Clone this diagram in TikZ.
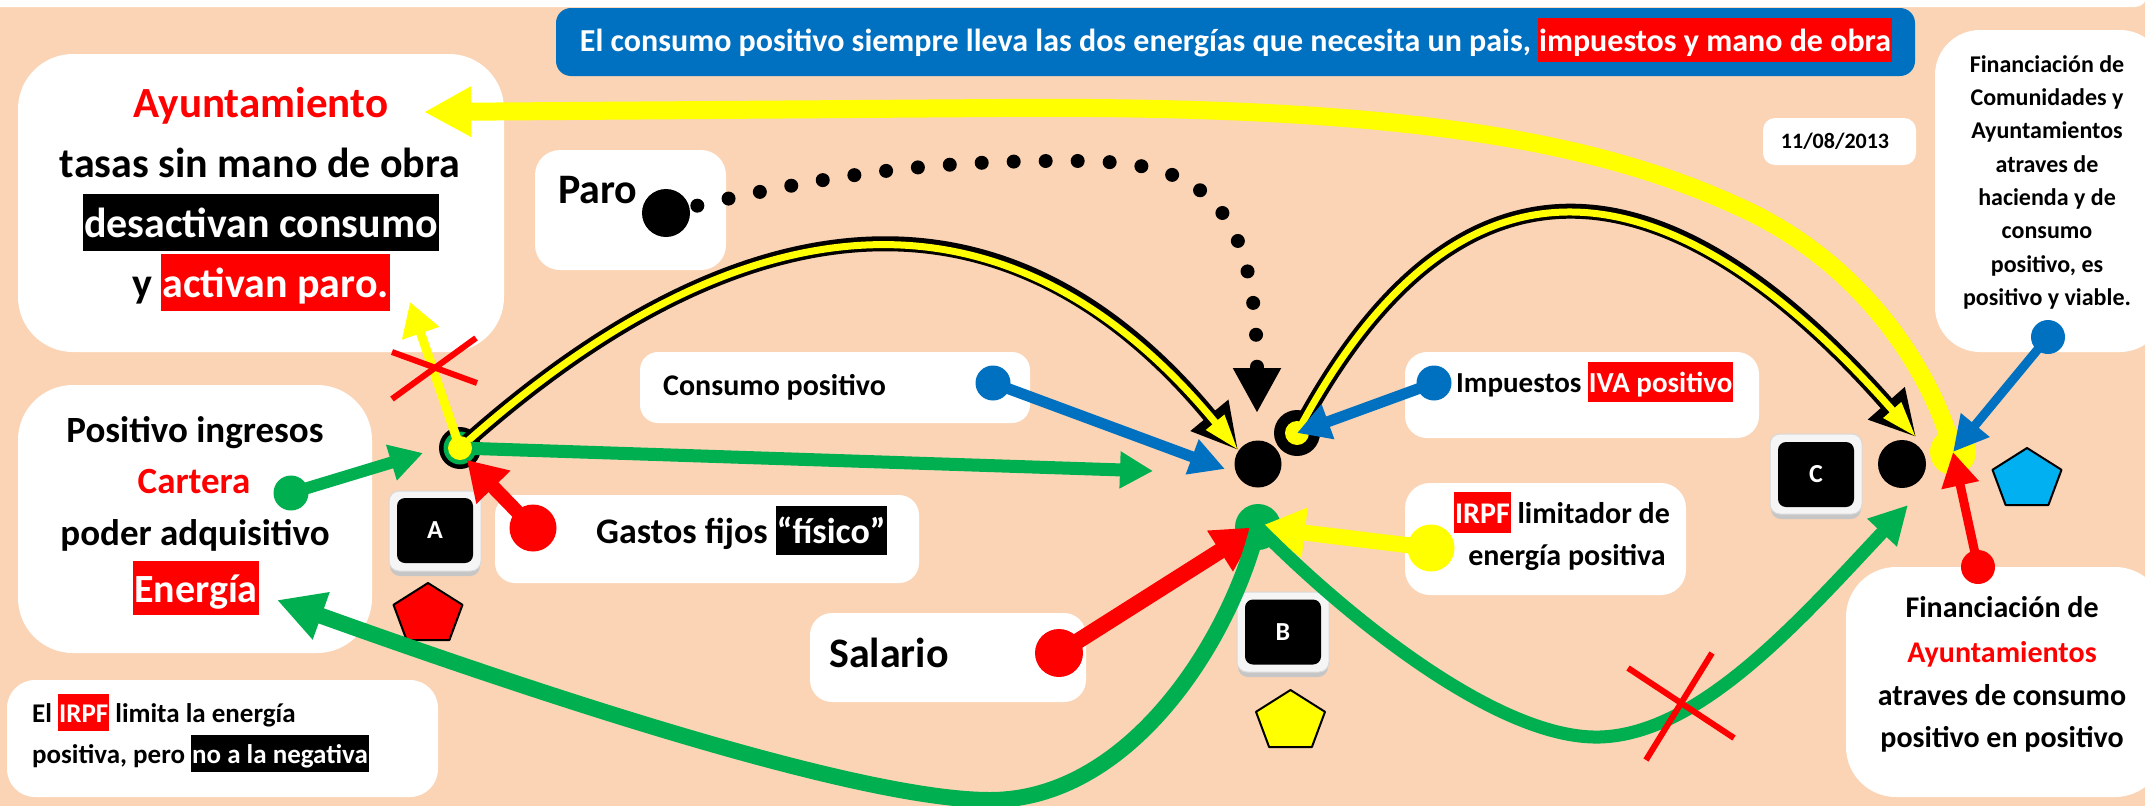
\documentclass[tikz,border=0pt]{standalone}
\usepackage{fontspec}
\setmainfont{Carlito}
\usetikzlibrary{arrows.meta,shapes.geometric}
\definecolor{peach}{HTML}{FAD4B4}
\definecolor{mgreen}{HTML}{00B050}
\definecolor{mblue}{HTML}{0070C0}
\definecolor{lblue}{HTML}{00B0F0}
\definecolor{myellow}{HTML}{FFFF00}
\definecolor{mred}{HTML}{FF0000}
\newcommand{\hlbox}[2]{\begingroup\setlength{\fboxsep}{1pt}\colorbox{#1}{\rule[-0.3em]{0pt}{1.3em}\textcolor{white}{#2}}\endgroup}
\newcommand{\pentagonat}[3]{\draw[line width=2pt, fill=#3, line join=round] (#1,#2-31.5) -- (#1+34.5,#2-9.7) -- (#1+21.4,#2+25.5) -- (#1-21.4,#2+25.5) -- (#1-34.5,#2-9.7) -- cycle;}
\begin{document}
\begin{tikzpicture}[x=1pt,y=-1pt,
  fs/.style={font=\fontsize{#1}{#1}\selectfont\bfseries},
  txt/.style={inner sep=0pt, anchor=base},
  wbox/.style={fill=white, inner sep=0pt, rectangle},
  btnout/.style={fill=gray!8, draw=gray!30, line width=1pt, rounded corners=10pt, minimum width=92pt, minimum height=80pt, inner sep=0pt},
  btnsh/.style={fill=gray!45, rounded corners=10pt, minimum width=90pt, minimum height=80pt, inner sep=0pt},
  btnin/.style={fill=black, rounded corners=8pt, minimum width=76pt, minimum height=65pt, inner sep=0pt, text=white, fs=26},
  disc/.style={circle, inner sep=0pt, minimum size=#1},
  xmark/.style={mred, line width=6pt},
]
\useasboundingbox (0,0) rectangle (2145,806);
\clip (0,0) rectangle (2145,806);
\fill[peach] (0,0) rectangle (2145,806);
\fill[white, rounded corners=12pt] (-40,-40) rectangle (2147,7);

% ---------- boxes ----------
\node[wbox, fill=mblue, minimum width=1359pt, minimum height=68pt, rounded corners=15pt] (titlebox) at (1235.5,42) {};
\node[wbox, minimum width=486pt, minimum height=298pt, rounded corners=55pt] (ayuntbox) at (261,203) {};
\node[wbox, minimum width=191pt, minimum height=120pt, rounded corners=25pt] (parobox) at (630.5,210) {};
\node[wbox, minimum width=390pt, minimum height=71pt, rounded corners=18pt] (consbox) at (835,387.5) {};
\node[wbox, minimum width=424pt, minimum height=88pt, rounded corners=20pt] (gastbox) at (707,539) {};
\node[wbox, minimum width=354pt, minimum height=268pt, rounded corners=55pt] (posbox) at (195,519) {};
\node[wbox, minimum width=431pt, minimum height=117pt, rounded corners=28pt] (irpfbox) at (222.5,738.5) {};
\node[wbox, minimum width=276pt, minimum height=89pt, rounded corners=22pt] (salbox) at (948,657.5) {};
\node[wbox, minimum width=354pt, minimum height=86pt, rounded corners=22pt] (impbox) at (1582,395) {};
\node[wbox, minimum width=281pt, minimum height=112pt, rounded corners=25pt] (limbox) at (1545.5,539) {};
\node[wbox, minimum width=153pt, minimum height=47pt, rounded corners=12pt] (datebox) at (1839.5,141.5) {};
\node[wbox, minimum width=230pt, minimum height=322pt, rounded corners=45pt] (fintopbox) at (2050,191) {};
\node[wbox, minimum width=319pt, minimum height=230pt, rounded corners=50pt] (finbotbox) at (2005.5,682) {};

% ---------- texts ----------
\node[txt, fs=32, text=white] (titletxt) at (1236,51) {El consumo positivo siempre lleva las dos energías que necesita un pais, \hlbox{mred}{impuestos y mano de obra}};
\node[txt, fs=43, text=mred] (ay1) at (261,117) {Ayuntamiento};
\node[txt, fs=42] (ay2) at (260,177) {tasas sin mano de obra};
\node[txt, fs=42] (ay3) at (261,237) {\hlbox{black}{desactivan consumo}};
\node[txt, fs=42] (ay4) at (261,297) {y \hlbox{mred}{activan paro.}};
\node[txt, fs=42, anchor=base west] (parotxt) at (558,203) {Paro};
\node[txt, fs=30, anchor=base west] (constxt) at (663,395) {Consumo positivo};
\node[txt, fs=37] (pos1) at (195,442) {Positivo ingresos};
\node[txt, fs=37, text=mred] (pos2) at (194,493) {Cartera};
\node[txt, fs=37] (pos3) at (195,545) {poder adquisitivo};
\node[txt, fs=40] (pos4) at (196,602) {\hlbox{mred}{Energía}};
\node[txt, fs=36, anchor=base west] (gasttxt) at (596,543) {Gastos fijos \hlbox{black}{“físico”}};
\node[txt, fs=27, anchor=base west] (irpf1) at (32,722) {El \hlbox{mred}{IRPF} limita la energía};
\node[txt, fs=27, anchor=base west] (irpf2) at (32,763) {positiva, pero \hlbox{black}{no a la negativa}};
\node[txt, fs=42, anchor=base west] (saltxt) at (829,667) {Salario};
\node[txt, fs=29, anchor=base west] (imptxt) at (1456,392) {Impuestos \hlbox{mred}{IVA positivo}};
\node[txt, fs=30] (lim1) at (1562,523) {\hlbox{mred}{IRPF} limitador de};
\node[txt, fs=30] (lim2) at (1567,565) {energía positiva};
\node[txt, fs=22] (datetxt) at (1835,148) {11/08/2013};
\node[txt, fs=24] (ft1) at (2047,72) {Financiación de};
\node[txt, fs=24] (ft2) at (2047,105) {Comunidades y};
\node[txt, fs=24] (ft3) at (2047,138) {Ayuntamientos};
\node[txt, fs=24] (ft4) at (2047,172) {atraves de};
\node[txt, fs=24] (ft5) at (2047,205) {hacienda y de};
\node[txt, fs=24] (ft6) at (2047,238) {consumo};
\node[txt, fs=24] (ft7) at (2047,272) {positivo, es};
\node[txt, fs=24] (ft8) at (2047,305) {positivo y viable.};
\node[txt, fs=30] (fb1) at (2002,617) {Financiación de};
\node[txt, fs=30, text=mred] (fb2) at (2002,662) {Ayuntamientos};
\node[txt, fs=30] (fb3) at (2002,705) {atraves de consumo};
\node[txt, fs=30] (fb4) at (2002,747) {positivo en positivo};

% ---------- buttons ----------
\node[btnsh] (Ash) at (435,536) {};
\node[btnout] (Aout) at (435,531) {};
\node[btnin] (Ain) at (435,530.5) {A};
\node[btnsh] (Bsh) at (1283,637) {};
\node[btnout] (Bout) at (1283,632) {};
\node[btnin] (Bin) at (1283,632) {B};
\node[btnsh] (Csh) at (1816,479) {};
\node[btnout] (Cout) at (1816,474) {};
\node[btnin] (Cin) at (1816,474.5) {C};

% ---------- pentagons ----------
\pentagonat{428}{614.5}{mred}
\pentagonat{1290.5}{721.5}{myellow}
\pentagonat{2027}{479.5}{lblue}

% ---------- dots ----------
\node[disc=48pt, fill=black] (parodot) at (666,213) {};
\node[disc=42pt, fill=black] (Aring) at (460,448) {};
\node[disc=33pt, fill=mgreen] (Agrn) at (460,448) {};
\node[disc=47pt, fill=black] (Bdot) at (1258,464) {};
\node[disc=46pt, fill=black] (Bring) at (1297,433) {};
\node[disc=46pt, fill=mgreen] (Bgrn) at (1258,527) {};
\node[disc=48pt, fill=black] (Cdot) at (1902,464) {};
\node[disc=46pt, fill=myellow] (Cyel) at (1953,452) {};
\node[disc=35pt, fill=mblue] (consdot) at (993,383) {};
\node[disc=35pt, fill=mblue] (impdot) at (1434,383) {};
\node[disc=34pt, fill=mblue] (fintopdot) at (2048,337) {};
\node[disc=47pt, fill=mred] (gastdot) at (533,528) {};
\node[disc=48pt, fill=mred] (saldot) at (1059,653) {};
\node[disc=47pt, fill=myellow] (limdot) at (1431,548) {};
\node[disc=34pt, fill=mred] (finbotdot) at (1978,567) {};
\node[disc=35pt, fill=mgreen] (cartdot) at (291,493) {};

% ---------- free tip coordinates ----------
\coordinate (aytip) at (424,112);
\coordinate (arc1tip) at (1238,450);
\coordinate (arc2tip) at (1916,437);
\coordinate (dottip) at (1257,413);
\coordinate (energtip) at (277,600);
\coordinate (cgtip) at (1908,505);
\coordinate (gabtip) at (1153,471);
\coordinate (carttip) at (423,453);
\coordinate (upatip) at (410,302);
\coordinate (gasttip) at (467,460);
\coordinate (constip) at (1225,469);

% ---------- connectors ----------
\draw[myellow, line width=18pt, -{Triangle[length=47pt,width=47pt]}] (Cyel.center) .. controls (1935,380) and (1870,270) .. (1750,212) .. controls (1600,140) and (1400,105) .. (1000,108) -- (aytip);

\draw[black, line width=15pt, -{Triangle[length=45pt,width=46pt]}] (Aring.center) .. controls (757,181) and (1016,181) .. (arc1tip);
\draw[myellow, line width=7pt, -{Triangle[length=36pt,width=22pt]}] (Aring.center) .. controls (757,181) and (1016,181) .. (arc1tip);
\draw[black, line width=15pt, -{Triangle[length=45pt,width=46pt]}] (Bring.center) .. controls (1451,141) and (1657,143) .. (arc2tip);
\draw[myellow, line width=7pt, -{Triangle[length=36pt,width=22pt]}] (Bring.center) .. controls (1451,141) and (1657,143) .. (arc2tip);

\draw[black, line width=14pt, line cap=round, dash pattern=on 0pt off 32pt, shorten <=8pt, -{Triangle[length=45pt,width=45pt]}] (parodot) .. controls (850,170) and (950,160) .. (1080,161) .. controls (1200,162) and (1257,200) .. (dottip);

\draw[mgreen, line width=13pt, -{Triangle[length=33pt,width=35pt]}] (Aring.center) -- (gabtip);
\draw[mgreen, line width=12pt, -{Triangle[length=33pt,width=35pt]}] (cartdot.center) -- (carttip);
\draw[myellow, line width=9pt, -{Triangle[length=33pt,width=37pt]}] (Aring.center) -- (upatip);
\fill[myellow] (Aring.center) circle (12pt);
\fill[myellow] (Bring.center) circle (12pt);
\draw[mred, line width=14pt, -{Triangle[length=38pt,width=45pt]}] (gastdot.center) -- (gasttip);

\draw[mblue, line width=11pt, -{Triangle[length=35pt,width=35pt]}] (consdot.center) -- (constip);
\draw[mblue, line width=11pt, -{Triangle[length=33pt,width=35pt]}] (impdot.center) -- (Bring.center);

\draw[mred, line width=16pt, -{Triangle[length=45pt,width=45pt]}] (saldot.center) -- (Bgrn.center);
\draw[myellow, line width=16pt, -{Triangle[length=47pt,width=47pt]}] (limdot.center) -- (Bgrn.center);

\draw[mgreen, line width=16pt, -{Triangle[length=47pt,width=47pt]}] (Bgrn.center) .. controls (1230,640) and (1130,800) .. (990,800) .. controls (850,800) and (500,680) .. (energtip);
\draw[mgreen, line width=13pt, -{Triangle[length=38pt,width=38pt]}] (Bgrn.center) .. controls (1350,620) and (1500,740) .. (1600,737) .. controls (1700,734) and (1800,620) .. (cgtip);

\draw[mred, line width=9pt, -{Triangle[length=34pt,width=36pt]}] (finbotdot.center) -- (Cyel.center);
\draw[mblue, line width=9pt, -{Triangle[length=35pt,width=35pt]}] (fintopdot.center) -- (Cyel.center);

% ---------- crosses ----------
\draw[xmark] (392,352) -- (477,383);
\draw[xmark] (476,338) -- (392,399);
\draw[xmark] (1628,668) -- (1734,738);
\draw[xmark] (1712,653) -- (1646,760);
\end{tikzpicture}
\end{document}
